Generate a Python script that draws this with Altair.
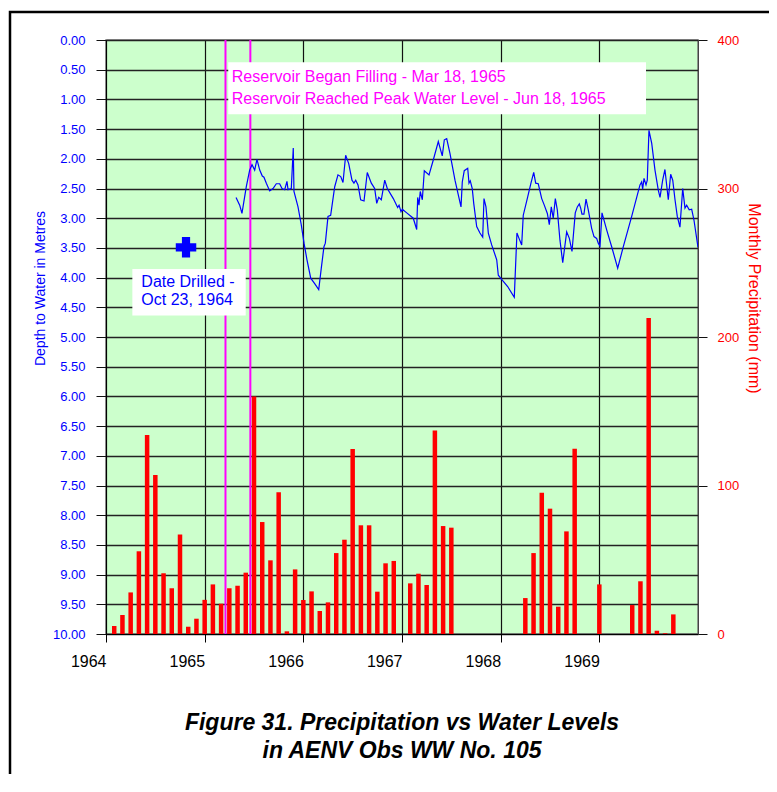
import altair as alt
import pandas as pd

# ---------------- data ----------------
years = [1964, 1965, 1966, 1967, 1968, 1969]
precip_1964 = [5.4, 12.8, 28.0, 55.7, 134.0, 107.0, 40.9, 30.8, 67.0, 4.9, 10.3, 23.0]
precip_1965 = [33.4, 20.4, 30.8, 32.5, 41.3, 160.0, 75.4, 49.6, 95.4, 1.8, 43.5, 22.9]
precip_1966 = [28.7, 15.5, 21.3, 54.5, 63.5, 124.6, 73.2, 73.2, 28.5, 47.6, 49.2, None]
precip_1967 = [34.1, 40.6, 33.0, 137.0, 72.7, 71.6, None, None, None, None, None, None]
precip_1968 = [None, None, 24.2, 54.5, 95.2, 84.4, 18.4, 69.1, 124.8, None, None, 33.4]
precip_1969 = [None, None, None, 19.5, 35.5, 212.8, 2.2, 0.5, 13.2, None, None, None]

water_date = [
    1965.318, 1965.355, 1965.378, 1965.422, 1965.456, 1965.480, 1965.507, 1965.530,
    1965.558, 1965.584, 1965.601, 1965.625, 1965.659, 1965.693, 1965.726, 1965.760,
    1965.784, 1965.811, 1965.834, 1965.845, 1965.878, 1965.898, 1965.905, 1965.946,
    1965.979, 1966.007, 1966.037, 1966.075, 1966.115, 1966.156, 1966.182, 1966.209,
    1966.223, 1966.250, 1966.277, 1966.318, 1966.351, 1966.379, 1966.402, 1966.429,
    1966.460, 1966.493, 1966.513, 1966.531, 1966.554, 1966.581, 1966.615, 1966.648,
    1966.689, 1966.723, 1966.744, 1966.764, 1966.790, 1966.825, 1966.851, 1966.912,
    1966.956, 1966.970, 1966.990, 1967.003, 1967.048, 1967.114, 1967.149, 1967.159,
    1967.172, 1967.185, 1967.206, 1967.226, 1967.274, 1967.317, 1967.368, 1967.408,
    1967.429, 1967.453, 1967.486, 1967.537, 1967.598, 1967.611, 1967.631, 1967.666,
    1967.679, 1967.692, 1967.712, 1967.727, 1967.757, 1967.790, 1967.818, 1967.831,
    1967.851, 1967.875, 1967.909, 1967.960, 1967.976, 1968.010, 1968.071, 1968.138,
    1968.165, 1968.186, 1968.213, 1968.229, 1968.274, 1968.307, 1968.335, 1968.355,
    1968.381, 1968.416, 1968.442, 1968.473, 1968.493, 1968.513, 1968.533, 1968.554,
    1968.574, 1968.601, 1968.629, 1968.642, 1968.669, 1968.696, 1968.723, 1968.756,
    1968.777, 1968.797, 1968.811, 1968.824, 1968.844, 1968.865, 1968.888, 1968.922,
    1968.946, 1968.973, 1968.989, 1969.007, 1969.027, 1969.075, 1969.125, 1969.186,
    1969.243, 1969.328, 1969.412, 1969.429, 1969.439, 1969.453, 1969.473, 1969.486,
    1969.503, 1969.531, 1969.564, 1969.598, 1969.615, 1969.642, 1969.665, 1969.699,
    1969.723, 1969.744, 1969.767, 1969.790, 1969.817, 1969.845, 1969.868, 1969.885,
    1969.911, 1969.936, 1969.959, 1970.000,
]
water_depth = [
    2.65, 2.78, 2.92, 2.47, 2.19, 2.10, 2.19, 2.01,
    2.19, 2.29, 2.31, 2.41, 2.54, 2.50, 2.42, 2.42,
    2.50, 2.52, 2.38, 2.52, 2.50, 1.82, 2.55, 2.81,
    3.11, 3.42, 3.70, 4.01, 4.10, 4.20, 3.84, 3.48,
    3.42, 2.97, 2.95, 2.47, 2.27, 2.30, 2.40, 1.94,
    2.08, 2.36, 2.41, 2.36, 2.44, 2.69, 2.71, 2.23,
    2.41, 2.50, 2.75, 2.65, 2.69, 2.36, 2.50, 2.67,
    2.82, 2.78, 2.89, 2.85, 2.91, 3.00, 3.19, 2.65,
    2.78, 2.55, 2.69, 2.20, 2.27, 2.02, 1.71, 1.95,
    1.68, 1.66, 1.91, 2.36, 2.81, 2.39, 2.20, 2.16,
    2.41, 2.37, 2.50, 2.75, 3.14, 3.25, 3.32, 2.67,
    2.81, 3.25, 3.45, 3.70, 3.96, 4.03, 4.15, 4.33,
    3.25, 3.34, 3.45, 2.95, 2.64, 2.41, 2.23, 2.41,
    2.42, 2.67, 2.78, 2.92, 3.11, 2.81, 3.00, 2.67,
    2.86, 3.37, 3.75, 3.58, 3.23, 3.34, 3.56, 2.91,
    2.81, 2.76, 2.83, 2.93, 2.93, 2.68, 2.86, 3.17,
    3.31, 3.34, 3.42, 3.47, 2.91, 3.20, 3.48, 3.84,
    3.48, 2.97, 2.44, 2.39, 2.51, 2.33, 2.44, 2.36,
    1.52, 1.74, 2.19, 2.53, 2.65, 2.36, 2.18, 2.69,
    2.26, 2.36, 2.69, 2.97, 3.15, 2.50, 2.83, 2.78,
    2.86, 2.85, 3.03, 3.49,
]

drilled_date = [1964.811]          # Oct 23, 1964
drilled_depth = [3.49]
drilled_text = ["Date Drilled -", "Oct 23, 1964"]

reservoir_dates = [1965.211, 1965.463]   # Mar 18, 1965 / Jun 18, 1965
reservoir_text = ["Reservoir Began Filling - Mar 18, 1965",
                  "Reservoir Reached Peak Water Level - Jun 18, 1965"]

title_lines = ["Figure 31. Precipitation vs Water Levels", "in AENV Obs WW No. 105"]

x_tick_years = [1964, 1965, 1966, 1967, 1968, 1969]
depth_ticks = [i * 0.5 for i in range(21)]
precip_ticks = [0, 100, 200, 300, 400]

# ---------------- tables ----------------
rows = []
for yr, vals in zip(years, [precip_1964, precip_1965, precip_1966,
                            precip_1967, precip_1968, precip_1969]):
    for m, v in enumerate(vals, start=1):
        if v is not None:
            rows.append({"date": yr + m / 12.0, "precip": v})
precip_df = pd.DataFrame(rows)
water_df = pd.DataFrame({"date": water_date, "depth": water_depth})
drilled_df = pd.DataFrame({"date": drilled_date, "depth": drilled_depth})
res_df = pd.DataFrame({"date": reservoir_dates})

res_box = pd.DataFrame({"x1": [1965.239], "x2": [1969.473], "y1": [0.375], "y2": [1.25]})
res_txt = pd.DataFrame({"date": [1965.275, 1965.275], "depth": [0.62, 0.99], "t": reservoir_text})
dr_box = pd.DataFrame({"x1": [1964.267], "x2": [1965.416], "y1": [3.855], "y2": [4.64]})
dr_txt = pd.DataFrame({"date": [1964.358, 1964.358], "depth": [4.066, 4.377], "t": drilled_text})

FONT = "Arial, Liberation Sans, sans-serif"
BLUE = "#0000ff"
RED = "#ff0000"
MAGENTA = "#ff00ff"

xscale = alt.Scale(domain=[1964, 1970], nice=False, zero=False, padding=0)
xaxis = alt.Axis(values=x_tick_years, format="d", title=None, labelAlign="right",
                 labelFlush=False, labelFont=FONT, labelFontSize=16, labelColor="black",
                 labelPadding=11, tickSize=8, tickColor="black", domainColor="black",
                 grid=True, gridColor="#111111", gridWidth=1.2)

yscale = alt.Scale(domain=[0, 10], reverse=True, nice=False, zero=False, padding=0)
yaxis = alt.Axis(values=depth_ticks, format=".2f", title="Depth to Water in Metres",
                 labelFlush=False, labelFont=FONT, labelFontSize=13, labelColor=BLUE,
                 labelPadding=11, tickSize=10, tickColor="#111111", domainColor="black",
                 grid=True, gridColor="#222222", gridWidth=1.3, labelOverlap=False,
                 titleColor=BLUE, titleFont=FONT, titleFontSize=14, titleFontWeight="normal",
                 titleX=-66, titleY=248, titleAngle=270, titleAlign="center",
                 titleBaseline="middle")


def X(field):
    return alt.X(field, type="quantitative", scale=xscale, axis=xaxis)


def Y(field):
    return alt.Y(field, type="quantitative", scale=yscale, axis=yaxis)


frame = alt.Chart(pd.DataFrame({"a": [0]})).mark_rect(
    fill="transparent", stroke="black", strokeWidth=2.5
).encode(x=alt.value(-96), x2=alt.value(900), y=alt.value(-28), y2=alt.value(900))

title_df = pd.DataFrame({"t": title_lines, "row": [0, 1]})
title1 = alt.Chart(title_df.iloc[[0]]).mark_text(
    align="center", baseline="middle", font=FONT, fontSize=23, fontStyle="italic",
    fontWeight="bold", color="black"
).encode(text="t", x=alt.value(296), y=alt.value(683))
title2 = alt.Chart(title_df.iloc[[1]]).mark_text(
    align="center", baseline="middle", font=FONT, fontSize=23, fontStyle="italic",
    fontWeight="bold", color="black"
).encode(text="t", x=alt.value(296), y=alt.value(711))

line = alt.Chart(water_df).mark_line(color=BLUE, strokeWidth=1.2, clip=True).encode(
    x=X("date"), y=Y("depth"))

rules = alt.Chart(res_df).mark_rule(color=MAGENTA, strokeWidth=2).encode(x=X("date"))

res_rect = alt.Chart(res_box).mark_rect(color="white").encode(
    x=X("x1"), x2="x2", y=Y("y1"), y2="y2")
res_text = alt.Chart(res_txt).mark_text(
    align="left", baseline="middle", color=MAGENTA, font=FONT, fontSize=16
).encode(x=X("date"), y=Y("depth"), text="t")

dr_rect = alt.Chart(dr_box).mark_rect(color="white").encode(
    x=X("x1"), x2="x2", y=Y("y1"), y2="y2")
dr_text = alt.Chart(dr_txt).mark_text(
    align="left", baseline="middle", color=BLUE, font=FONT, fontSize=16
).encode(x=X("date"), y=Y("depth"), text="t")

cross = alt.Chart(drilled_df).mark_point(
    shape="cross", filled=True, color=BLUE, size=420, opacity=1
).encode(x=X("date"), y=Y("depth"))

left = alt.layer(rules, res_rect, res_text, dr_rect, dr_text, line, cross,
                 title1, title2, frame)

bars = alt.Chart(precip_df).mark_bar(color=RED, size=4.5).encode(
    x=X("date"),
    y=alt.Y("precip", type="quantitative",
            scale=alt.Scale(domain=[0, 400], nice=False, zero=True),
            axis=alt.Axis(orient="right", values=precip_ticks, format="d", grid=False,
                          title="Monthly Precipitation (mm)", labelFlush=False,
                          labelFont=FONT, labelFontSize=13, labelColor=RED, labelPadding=10,
                          tickSize=9, tickColor="#111111", domainColor="#444444",
                          titleColor=RED, titleFont=FONT, titleFontSize=16,
                          titleFontWeight="normal", titleAngle=90, titleX=55, titleY=258,
                          titleAlign="center", titleBaseline="middle")),
)

chart = alt.layer(bars, left).resolve_scale(y="independent").properties(
    width=592,
    height=594,
    autosize=alt.AutoSizeParams(type="none"),
    padding={"left": 98, "top": 32, "right": 71, "bottom": 140},
    background="white",
).configure_view(fill="#ccffcc", stroke="#777777", strokeWidth=1.5)

chart.save("out.html", embed_options={"renderer": "svg", "actions": False})
